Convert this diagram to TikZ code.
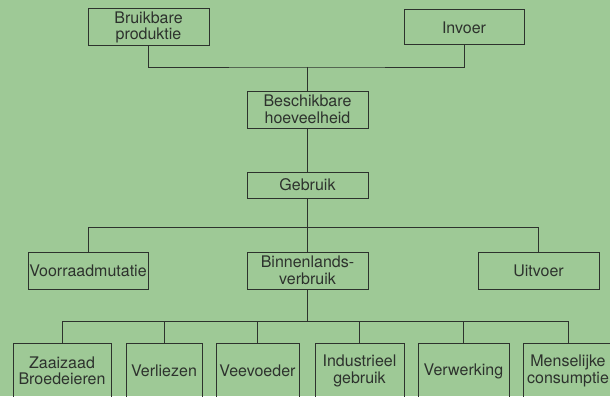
\documentclass[tikz,border=0pt]{standalone}
\usepackage{fontspec}
\setmainfont{TeX Gyre Heros}
\usepackage{tikz}
\usetikzlibrary{calc,positioning}
\definecolor{papier}{RGB}{158,201,150}
\definecolor{inkt}{RGB}{45,50,45}

\begin{document}
\begin{tikzpicture}[
    x=1pt, y=-1pt,
    vak/.style={rectangle, draw=inkt, line width=1pt, text=inkt, inner sep=1pt, align=center, font=\fontsize{16}{16.5}\selectfont},
    groot/.style={vak, minimum width=121pt, minimum height=37pt},
    klein/.style={vak, minimum height=56pt},
    lijn/.style={draw=inkt, line width=0.9pt}
]
    \useasboundingbox (0,0) rectangle (610,396);
    \clip (0,0) rectangle (610,396);
    \fill[papier] (0,0) rectangle (610,396);

    % bovenste rij
    \node (productie) [groot] at (148.5,27.5) {Bruikbare\\produktie};
    \node (invoer) [groot, minimum width=120pt, minimum height=35pt] at (464,27.5) {Invoer};
    \node (beschikbaar) [groot] at (307.5,109.5) {Beschikbare\\hoeveelheid};
    \node (gebruik) [groot, minimum height=26pt] at (307.5,185) {Gebruik};

    % middelste rij
    \node (voorraad) [groot, minimum width=120pt] at (88,270.5) {Voorraadmutatie};
    \node (binnenland) [groot] at (307.5,270.5) {Binnenlands-\\verbruik};
    \node (uitvoer) [groot] at (538.5,270.5) {Uitvoer};

    % onderste rij
    \node (zaaizaad) [klein, minimum width=98pt] at (62,371) {Zaaizaad\\Broedeieren};
    \node (verliezen) [klein, minimum width=76pt] at (164,371) {Verliezen};
    \node (veevoeder) [klein, minimum width=83pt] at (257.5,371) {Veevoeder};
    \node (industrie) [klein, minimum width=89pt] at (359.5,371) {Industrieel\\gebruik};
    \node (verwerking) [klein, minimum width=91pt] at (463.5,371) {Verwerking};
    \node (consumptie) [klein, minimum width=90pt] at (568,371) {Menselijke\\consumptie};

    \coordinate (bus1) at (307.5,67);
    \coordinate (bus2) at (307.5,227);
    \coordinate (bus3) at (307.5,321);

    \draw [lijn] (productie.south) |- (bus1) -| (invoer.south);
    \draw [lijn] (bus1) -- (beschikbaar.north);
    \draw [lijn] (beschikbaar.south) -- (gebruik.north);
    \draw [lijn] (gebruik.south) -- (bus2);
    \foreach \n in {voorraad,binnenland,uitvoer}
        \draw [lijn] (bus2) -| (\n.north);
    \draw [lijn] (binnenland.south) -- (bus3);
    \foreach \n in {zaaizaad,verliezen,veevoeder,industrie,verwerking,consumptie}
        \draw [lijn] (bus3) -| (\n.north);
\end{tikzpicture}
\end{document}
